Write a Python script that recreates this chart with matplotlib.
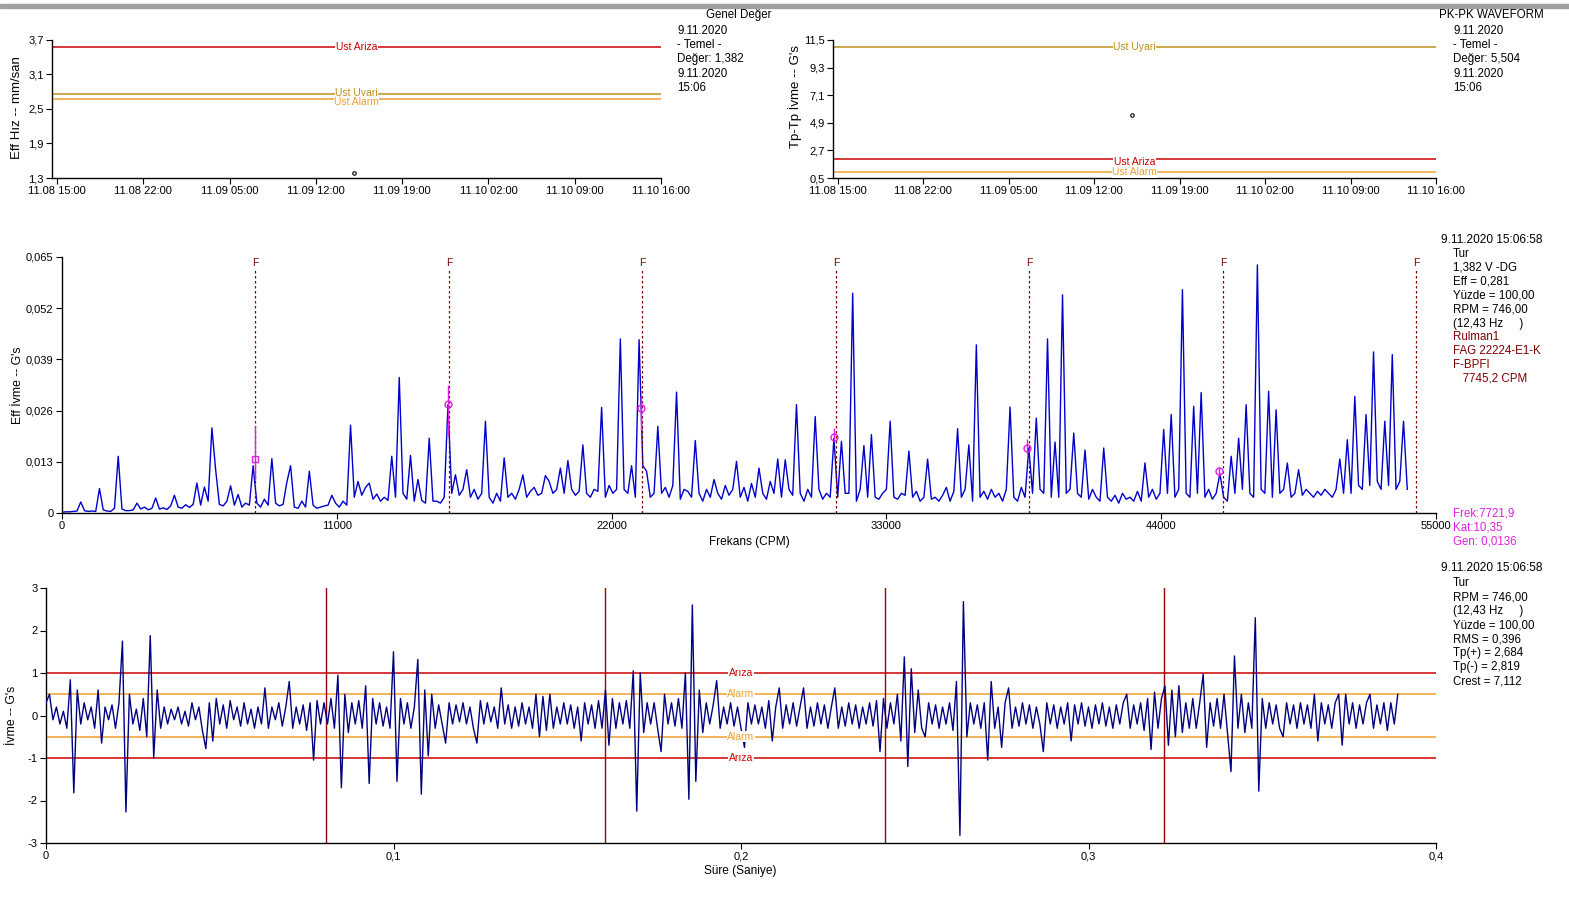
import matplotlib
matplotlib.use('Agg')
import matplotlib.pyplot as plt
import numpy as np
import pandas as pd

plt.rcParams['font.family'] = ['Liberation Sans', 'DejaVu Sans']

W, H = 1569, 915

# --- trend panels ---
trend_time = pd.to_datetime(['2020-11-09 15:06'])
hiz_value = [1.382]
pkpk_value = [5.504]
trend_ticks = pd.to_datetime(['2020-11-08 15:00', '2020-11-08 22:00', '2020-11-09 05:00',
                              '2020-11-09 12:00', '2020-11-09 19:00', '2020-11-10 02:00',
                              '2020-11-10 09:00', '2020-11-10 16:00'])
trend_start = pd.to_datetime('2020-11-08 14:36')
hiz_yticks = [1.3, 1.9, 2.5, 3.1, 3.7]
pkpk_yticks = [0.5, 2.7, 4.9, 7.1, 9.3, 11.5]
hiz_limit_names = ['Ust Ariza', 'Ust Uyari', 'Ust Alarm']
hiz_limit_vals = [3.58, 2.76, 2.68]
pkpk_limit_names = ['Ust Uyari', 'Ust Ariza', 'Ust Alarm']
pkpk_limit_vals = [10.97, 2.0, 0.96]

# --- spectrum (amplitude in milli-G, one value every 150 CPM) ---
spec_step = 150
spec_amp = [
    0.2, 0.3, 0.3, 0.4, 0.5, 2.8, 0.6, 0.4, 0.5, 0.4,
    6.2, 0.8, 0.5, 0.4, 1.2, 14.4, 1.0, 0.6, 0.6, 0.8,
    2.5, 1.0, 1.5, 0.8, 1.2, 3.8, 1.0, 1.3, 0.9, 1.8,
    4.5, 1.5, 1.2, 2.1, 1.4, 2.2, 7.6, 2.0, 6.6, 3.0,
    21.6, 11.0, 2.2, 1.8, 3.0, 6.9, 2.0, 4.7, 1.5, 2.5,
    2.0, 12.0, 2.5, 1.5, 3.5, 2.0, 13.8, 2.5, 1.8, 2.2,
    7.8, 12.0, 1.5, 1.2, 3.0, 1.5, 10.6, 2.0, 1.2, 1.5,
    1.8, 2.0, 4.5, 2.5, 1.5, 3.0, 2.0, 22.3, 4.0, 8.0,
    4.5, 6.5, 7.6, 3.5, 4.8, 3.0, 4.0, 3.2, 14.4, 4.0,
    34.4, 5.0, 3.5, 14.6, 3.0, 8.5, 3.2, 2.5, 19.0, 3.0,
    3.0, 2.5, 4.0, 27.5, 5.0, 9.7, 4.5, 6.0, 11.0, 4.0,
    6.0, 3.5, 5.0, 23.3, 4.0, 2.5, 5.0, 3.0, 14.0, 4.0,
    5.0, 3.5, 6.0, 9.7, 4.0, 5.5, 6.5, 4.5, 5.0, 9.5,
    8.0, 5.0, 6.0, 11.4, 5.0, 13.3, 6.0, 4.5, 5.5, 17.3,
    5.0, 4.0, 6.0, 5.5, 26.8, 4.0, 7.0, 5.0, 6.0, 44.2,
    6.0, 5.0, 12.0, 4.0, 44.0, 12.0, 10.6, 4.0, 5.0, 22.0,
    5.0, 6.5, 4.0, 7.0, 30.7, 3.5, 6.0, 5.5, 4.0, 18.4,
    5.0, 3.0, 6.0, 4.0, 8.5, 5.0, 3.5, 7.0, 4.5, 6.0,
    13.1, 4.0, 6.5, 3.0, 7.5, 4.0, 11.4, 5.0, 3.5, 8.0,
    5.0, 13.7, 4.0, 13.5, 6.0, 4.5, 27.5, 5.0, 3.0, 6.0,
    4.0, 24.5, 6.0, 3.5, 5.0, 4.0, 19.0, 4.0, 18.2, 5.0,
    5.0, 55.8, 3.0, 6.0, 17.1, 4.0, 19.9, 4.0, 3.5, 5.0,
    6.0, 23.3, 4.0, 3.5, 5.0, 4.5, 15.7, 4.0, 5.5, 3.0,
    4.0, 13.7, 3.5, 4.0, 3.0, 4.5, 6.5, 3.0, 5.5, 21.4,
    4.0, 6.0, 17.3, 3.0, 42.7, 4.0, 5.5, 3.5, 6.0, 4.0,
    5.0, 3.0, 6.0, 26.9, 4.0, 3.0, 6.5, 4.0, 16.5, 5.0,
    24.1, 6.0, 5.0, 44.2, 4.0, 18.0, 4.0, 55.4, 5.0, 6.0,
    20.3, 5.0, 4.0, 16.0, 3.5, 6.0, 4.0, 3.0, 16.5, 4.0,
    3.0, 4.5, 2.5, 5.0, 3.5, 4.0, 3.0, 5.5, 3.0, 12.7,
    4.0, 6.0, 3.5, 5.0, 21.2, 5.0, 25.0, 4.0, 6.0, 56.7,
    5.0, 4.0, 27.1, 5.0, 30.6, 4.0, 6.0, 3.5, 5.0, 10.0,
    4.0, 3.0, 14.4, 5.0, 19.0, 6.0, 27.5, 5.0, 4.0, 63.0,
    6.0, 5.0, 30.9, 4.0, 26.2, 5.0, 6.0, 12.7, 4.0, 5.0,
    11.0, 4.5, 6.0, 5.0, 4.0, 5.5, 4.5, 6.0, 5.0, 4.0,
    6.0, 13.7, 5.0, 18.6, 5.0, 29.6, 7.0, 6.0, 25.0, 7.0,
    40.9, 8.0, 6.0, 23.3, 7.0, 40.2, 6.0, 8.0, 23.3, 6.0,
]
spec_xticks = [0, 11000, 22000, 33000, 44000, 55000]
spec_yticks = [0, 0.013, 0.026, 0.039, 0.052, 0.065]
bpfi = 7745.2
fault_orders = [1, 2, 3, 4, 5, 6, 7]
cursor_freq = [7722, 15470, 23190, 30915, 38627, 46315]
cursor_amp = [0.0136, 0.0278, 0.0267, 0.0193, 0.0166, 0.0107]
cursor_top = [0.022, 0.0326, 0.0297, 0.0215, 0.0188, 0.0118]
cursor_bot = [0.0085, 0.0195, 0.021, 0.0185, 0.0150, 0.0095]

# --- waveform (G's, one value every 1 ms) ---
wave_step = 0.001
wave_vals = [
    0.3, 0.5, -0.1, 0.2, -0.2, 0.1, -0.3, 0.84, -1.82, 0.6,
    -0.2, 0.3, -0.1, 0.2, -0.3, 0.6, -0.65, 0.2, -0.1, 0.25,
    -0.3, 0.3, 1.75, -2.27, 0.5, -0.2, 0.15, -0.35, 0.4, -0.5,
    1.88, -1.0, 0.6, -0.3, 0.2, -0.2, 0.15, -0.1, 0.2, -0.2,
    0.1, -0.25, 0.3, -0.1, 0.2, -0.35, -0.78, 0.3, -0.6, 0.4,
    -0.2, 0.25, -0.3, 0.35, -0.1, 0.2, -0.25, 0.3, -0.2, 0.15,
    -0.3, 0.2, -0.2, 0.65, -0.3, 0.2, -0.1, 0.3, -0.25, 0.2,
    0.8, -0.3, 0.2, -0.2, 0.25, -0.35, 0.3, -1.05, 0.35, -0.2,
    0.3, -0.2, 0.4, -0.3, 0.95, -1.7, 0.5, -0.4, 0.3, -0.2,
    0.35, -0.3, 0.7, -1.6, 0.4, -0.2, 0.3, -0.25, 0.2, -0.3,
    1.5, -1.55, 0.4, -0.2, 0.3, -0.3, 0.2, 1.32, -1.85, 0.6,
    -0.95, 0.5, -0.3, 0.25, -0.2, -0.65, 0.3, -0.2, 0.25, -0.15,
    0.3, -0.2, 0.2, -0.3, -0.65, 0.35, -0.2, 0.3, -0.15, 0.2,
    -0.3, 0.65, -0.2, 0.25, -0.3, 0.2, -0.25, 0.3, -0.2, 0.2,
    -0.3, 0.5, -0.5, 0.45, -0.35, 0.5, -0.3, 0.2, -0.2, 0.3,
    -0.2, 0.25, -0.3, 0.2, -0.6, 0.3, -0.2, 0.25, -0.3, 0.35,
    -0.3, 0.6, -0.7, 0.4, -0.3, 0.3, -0.2, 0.35, -0.3, 1.05,
    -2.25, 1.0, -0.4, 0.3, -0.2, 0.3, -0.3, -0.85, 0.5, -0.2,
    0.3, -0.25, 0.4, -0.3, 1.0, -1.97, 2.6, -1.55, 0.6, -0.4,
    0.3, -0.2, 0.25, 0.82, -0.3, 0.2, -0.2, 0.3, -0.25, 0.2,
    -0.3, -0.75, 0.3, -0.2, 0.25, -0.2, 0.2, -0.3, 0.35, -0.6,
    0.2, 0.65, -0.3, 0.25, -0.2, 0.3, -0.25, 0.2, 0.65, -0.3,
    0.2, -0.25, 0.3, -0.2, 0.25, -0.3, 0.2, 0.65, -0.3, 0.2,
    -0.25, 0.3, -0.2, 0.25, -0.3, 0.2, -0.2, 0.3, -0.25, 0.35,
    -0.85, 0.4, -0.3, 0.3, -0.2, 0.5, -0.6, 1.38, -1.2, 1.1,
    -0.4, 0.6, -0.3, -0.5, 0.3, -0.2, 0.25, -0.3, 0.2, -0.2,
    0.3, -0.35, 0.8, -2.82, 2.68, -0.5, 0.3, -0.2, 0.25, -0.3,
    0.3, -1.05, 0.8, -0.3, 0.2, -0.75, 0.3, 0.65, -0.3, 0.2,
    -0.25, 0.3, -0.2, 0.25, -0.3, 0.2, -0.2, -0.85, 0.3, -0.2,
    0.25, -0.3, 0.2, -0.2, 0.3, -0.6, 0.25, -0.2, 0.3, -0.25,
    0.2, -0.3, 0.25, -0.2, 0.3, -0.25, 0.2, -0.3, 0.25, -0.2,
    0.3, 0.5, -0.3, 0.25, -0.2, 0.3, -0.35, 0.4, -0.8, 0.55,
    -0.3, 0.4, 0.7, -0.7, 0.6, -0.5, 0.7, -0.4, 0.3, -0.3,
    0.4, -0.3, 0.3, 0.97, -0.75, 0.3, -0.25, 0.4, -0.3, 0.5,
    -0.4, -1.32, 1.4, -0.3, 0.5, -0.4, 0.3, -0.3, 2.3, -1.78,
    0.4, -0.3, 0.3, -0.2, 0.25, -0.3, -0.5, 0.3, -0.2, 0.25,
    -0.3, 0.3, -0.2, 0.25, -0.3, 0.5, -0.6, 0.3, -0.2, 0.25,
    -0.3, 0.3, 0.5, -0.7, 0.5, -0.2, 0.3, -0.3, 0.25, -0.2,
    0.3, 0.5, -0.3, 0.25, -0.2, 0.3, -0.35, 0.3, -0.2, 0.5,
]
wave_xticks = [0, 0.1, 0.2, 0.3, 0.4]
wave_yticks = [-3, -2, -1, 0, 1, 2, 3]
rev_period = 1 / 12.43
rev_marks = [1, 2, 3, 4]
wave_limit_names = ['Arıza', 'Alarm', 'Alarm', 'Arıza']
wave_limit_vals = [1.0, 0.5, -0.5, -1.0]

RED = '#cc0000'
ORANGE = '#f0a030'
GOLD = '#c09020'
DARKRED = '#800000'
MAGENTA = '#e020e0'
limit_colors = {'Ust Ariza': RED, 'Ust Uyari': GOLD, 'Ust Alarm': ORANGE,
                'Arıza': RED, 'Alarm': ORANGE}


def comma(v, fmt):
    return (fmt % v).replace('.', ',')


def px_axes(fig, x0, y0, x1, y1):
    return fig.add_axes([x0 / W, 1 - y1 / H, (x1 - x0) / W, (y1 - y0) / H])


def style(ax):
    for s in ['top', 'right']:
        ax.spines[s].set_visible(False)
    for s in ['left', 'bottom']:
        ax.spines[s].set_linewidth(1.0)
    ax.tick_params(direction='out', length=4, width=0.8, labelsize=8, pad=2)


def ftext(x, y, s, **kw):
    kw.setdefault('fontsize', 8.3)
    kw.setdefault('va', 'center')
    fig.text(x / W, 1 - y / H, s, **kw)


fig = plt.figure(figsize=(W / 100, H / 100), dpi=100)
fig.patches.append(plt.Rectangle((0, 1 - 8 / H), 1, 4 / H, transform=fig.transFigure,
                                 color='#a0a0a0', zorder=0))

# trend: Eff Hız
ax1 = px_axes(fig, 52, 40, 661, 178)
style(ax1)
ax1.set_xlim(trend_start, trend_ticks[-1])
ax1.set_ylim(hiz_yticks[0], hiz_yticks[-1])
ax1.set_xticks(trend_ticks)
ax1.set_xticklabels([t.strftime('%m.%d %H:%M') for t in trend_ticks])
ax1.set_yticks(hiz_yticks)
ax1.set_yticklabels([comma(v, '%.1f') for v in hiz_yticks])
for name, val in zip(hiz_limit_names, hiz_limit_vals):
    ax1.axhline(val, color=limit_colors[name], lw=1.1)
mid1 = trend_start + (trend_ticks[-1] - trend_start) / 2
for name, val, dy in zip(hiz_limit_names, hiz_limit_vals, [0, 0.01, -0.05]):
    ax1.text(mid1, val + dy, name, color=limit_colors[name], fontsize=7.5, ha='center',
             va='center', bbox=dict(facecolor='white', edgecolor='none', pad=0.3))
ax1.plot(trend_time, hiz_value, 'o', ms=2.5, mfc='white', mec='black', mew=0.8)

# trend: PK-PK
ax2 = px_axes(fig, 833, 40, 1436, 178)
style(ax2)
ax2.set_xlim(trend_start, trend_ticks[-1])
ax2.set_ylim(pkpk_yticks[0], pkpk_yticks[-1])
ax2.set_xticks(trend_ticks)
ax2.set_xticklabels([t.strftime('%m.%d %H:%M') for t in trend_ticks])
ax2.set_yticks(pkpk_yticks)
ax2.set_yticklabels([comma(v, '%.1f') for v in pkpk_yticks])
for name, val in zip(pkpk_limit_names, pkpk_limit_vals):
    ax2.axhline(val, color=limit_colors[name], lw=1.1)
for name, val, dy in zip(pkpk_limit_names, pkpk_limit_vals, [0, -0.25, 0]):
    ax2.text(mid1, val + dy, name, color=limit_colors[name], fontsize=7.5, ha='center',
             va='center', bbox=dict(facecolor='white', edgecolor='none', pad=0.3))
ax2.plot(trend_time, pkpk_value, 'o', ms=2.5, mfc='white', mec='black', mew=0.8)

# spectrum
ax3 = px_axes(fig, 62, 257, 1436, 513)
style(ax3)
freq = np.arange(len(spec_amp)) * spec_step
amp = np.array(spec_amp) / 1000.0
ax3.plot(freq, amp, color='#0000cc', lw=1.0)
ax3.set_xlim(0, 55000)
ax3.set_ylim(0, 0.065)
ax3.set_xticks(spec_xticks)
ax3.set_xticklabels([str(v) for v in spec_xticks])
ax3.set_yticks(spec_yticks)
ax3.set_yticklabels(['0'] + [comma(v, '%.3f') for v in spec_yticks[1:]])
for n in fault_orders:
    f = n * bpfi
    ax3.plot([f, f], [0, 0.0618], color=DARKRED, lw=0.9, ls=(0, (2, 2)))
    ax3.text(f, 0.0635, 'F', color=DARKRED, fontsize=7.5, ha='center', va='center')
ax3.vlines(cursor_freq, cursor_bot, cursor_top, color=MAGENTA, lw=1.0)
ax3.plot(cursor_freq[:1], cursor_amp[:1], 's', ms=5, mfc='none', mec=MAGENTA, mew=1.0)
ax3.plot(cursor_freq[1:], cursor_amp[1:], 'o', ms=5, mfc='none', mec=MAGENTA, mew=1.0)

# waveform
ax4 = px_axes(fig, 46, 588, 1436, 843)
style(ax4)
t = np.arange(len(wave_vals)) * wave_step
ax4.plot(t, wave_vals, color='#000080', lw=1.0, zorder=3)
ax4.set_xlim(0, 0.4)
ax4.set_ylim(-3, 3)
ax4.set_xticks(wave_xticks)
ax4.set_xticklabels(['0'] + [comma(v, '%.1f') for v in wave_xticks[1:]])
ax4.set_yticks(wave_yticks)
ax4.set_yticklabels([str(v) for v in wave_yticks])
for m in rev_marks:
    ax4.axvline(m * rev_period, color='#990000', lw=1.0, zorder=2)
for name, val in zip(wave_limit_names, wave_limit_vals):
    ax4.axhline(val, color=limit_colors[name], lw=1.1, zorder=1)
    ax4.text(0.2, val, name, color=limit_colors[name], fontsize=7.5, ha='center',
             va='center', zorder=4, bbox=dict(facecolor='white', edgecolor='none', pad=0.3))

# axis titles
ftext(17, 108, 'Eff Hız -- mm/san', rotation=90, ha='center', fontsize=9.5)
ftext(795, 96, "Tp-Tp İvme -- G's", rotation=90, ha='center', fontsize=9.5)
ftext(18, 385, "Eff İvme -- G's", rotation=90, ha='center', fontsize=8.8)
ftext(12, 715, "İvme -- G's", rotation=90, ha='center', fontsize=8.8)
ftext(749, 542, 'Frekans (CPM)', ha='center', fontsize=8.6)
ftext(740, 871, 'Süre (Saniye)', ha='center', fontsize=8.6)

# info blocks
ftext(772, 15, 'Genel Değer', ha='right')
for i, s in enumerate(['9.11.2020', '- Temel -', 'Değer: 1,382', '9.11.2020', '15:06']):
    ftext(677, 31 + i * 14.2, s)
ftext(1439, 15, 'PK-PK WAVEFORM')
for i, s in enumerate(['9.11.2020', '- Temel -', 'Değer: 5,504', '9.11.2020', '15:06']):
    ftext(1453, 31 + i * 14.2, s)

ftext(1441, 240, '9.11.2020 15:06:58', fontsize=8.6)
spec_info = ['Tur', '1,382 V -DG', 'Eff = 0,281', 'Yüzde = 100,00', 'RPM = 746,00',
             '(12,43 Hz     )']
for i, s in enumerate(spec_info):
    ftext(1453, 254 + i * 13.9, s)
bearing_info = ['Rulman1', 'FAG 22224-E1-K', 'F-BPFI', '   7745,2 CPM']
for i, s in enumerate(bearing_info):
    ftext(1453, 337 + i * 13.9, s, color=DARKRED)
for i, s in enumerate(['Frek:7721,9', 'Kat:10,35', 'Gen: 0,0136']):
    ftext(1453, 514 + i * 13.7, s, color=MAGENTA)

ftext(1441, 568, '9.11.2020 15:06:58', fontsize=8.6)
wave_info = ['Tur', 'RPM = 746,00', '(12,43 Hz     )', 'Yüzde = 100,00', 'RMS = 0,396',
             'Tp(+) = 2,684', 'Tp(-) = 2,819', 'Crest = 7,112']
for i, s in enumerate(wave_info):
    ftext(1453, 583 + i * 14.0, s)

fig.savefig('out.png', dpi=100)
